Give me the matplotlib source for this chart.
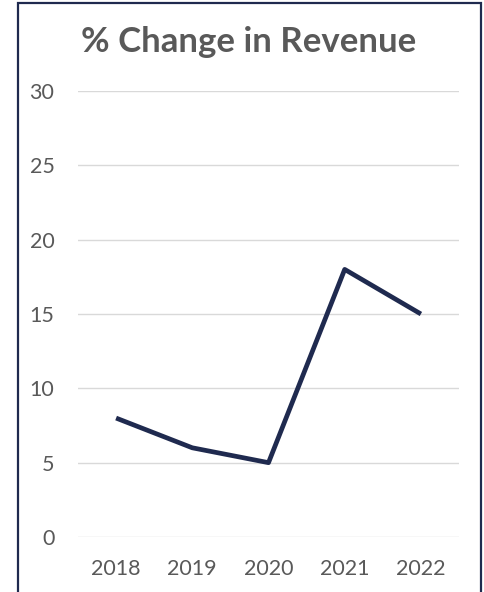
import matplotlib
matplotlib.use("Agg")
import matplotlib.pyplot as plt
from matplotlib.patches import Rectangle

years = ["2018", "2019", "2020", "2021", "2022"]
pct_change = [8, 6, 5, 18, 15]
y_ticks = [0, 5, 10, 15, 20, 25, 30]

TEXT = "#595959"
LINE = "#1F2A4F"
GRID = "#D9D9D9"

plt.rcParams["font.family"] = ["Lato", "DejaVu Sans"]

fig = plt.figure(figsize=(4.85, 5.92), dpi=100)
fig.patch.set_facecolor("white")

# outer frame
fig.patches.append(Rectangle((18 / 485, -0.05), (481 - 18) / 485, 1.05 - 3 / 592,
                             transform=fig.transFigure, fill=False,
                             edgecolor="#1F2A4F", linewidth=1.6, zorder=0))

ax = fig.add_axes([78 / 485, (592 - 537) / 592, (459 - 78) / 485, (537 - 91) / 592])
x = list(range(len(years)))
ax.plot(x, pct_change, color=LINE, linewidth=3.4, solid_joinstyle="round",
        solid_capstyle="butt", clip_on=False, zorder=3)

ax.set_xlim(-0.5, len(years) - 0.5)
ax.set_ylim(0, 30)
ax.set_yticks(y_ticks)
ax.set_xticks(x)
ax.set_xticklabels(years)
ax.grid(axis="y", color=GRID, linewidth=1.0)
ax.set_axisbelow(True)
for s in ax.spines.values():
    s.set_visible(False)
ax.tick_params(axis="both", length=0, labelsize=15.5, labelcolor=TEXT)
ax.tick_params(axis="y", pad=17)
ax.tick_params(axis="x", pad=16)

fig.text(249 / 485, 1 - 42 / 592, "% Change in Revenue", ha="center", va="center",
         fontsize=25, fontweight="bold", color=TEXT)

fig.savefig("out.png", dpi=100, facecolor="white")
